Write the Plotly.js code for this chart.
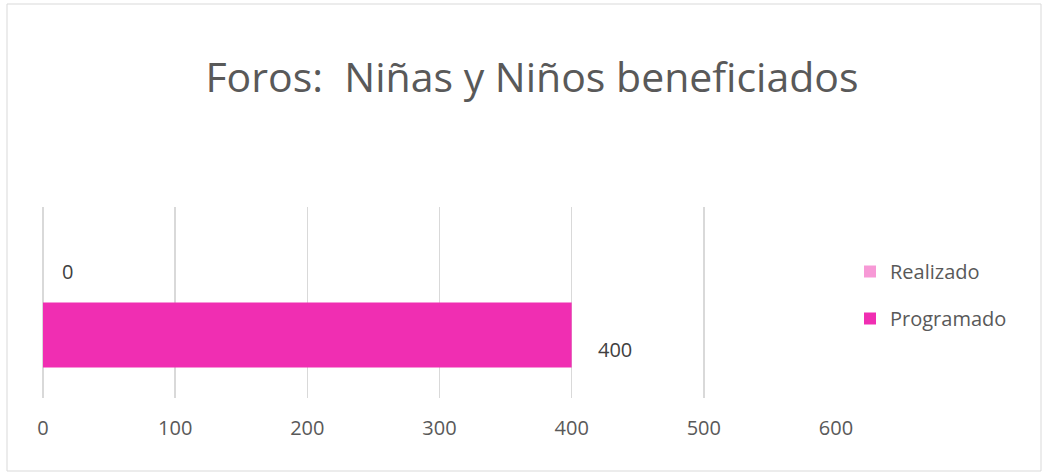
<!DOCTYPE html>
<html>
<head>
<meta charset="utf-8">
<script src="https://cdn.plot.ly/plotly-3.0.1.min.js"></script>
<style>html,body{margin:0;padding:0;background:#fff;}#chart{width:1048px;height:476px;}</style>
</head>
<body>
<div id="chart"></div>
<script>
const categories = ["Foros"];
const seriesNames = ["Programado", "Realizado"];
const programado = [400];
const realizado = [0];
const tickValues = [0, 100, 200, 300, 400, 500, 600];
const titleText = "Foros:  Niñas y Niños beneficiados";

const FONT = "'Open Sans', sans-serif";
const traces = [
  {type: "bar", orientation: "h", name: seriesNames[0], y: categories, x: programado,
   marker: {color: "#F02EB2"}, legendgroup: "p", legendrank: 2, hoverinfo: "none"},
  {type: "bar", orientation: "h", name: seriesNames[1], y: categories, x: realizado,
   marker: {color: "#F799D6"}, legendgroup: "r", legendrank: 1, hoverinfo: "none"}
];

const annotations = [];
programado.forEach((v, i) => annotations.push({x: v, y: categories[i], xref: "x", yref: "y",
  text: String(v), showarrow: false, xanchor: "left", xshift: 24, yshift: -47,
  font: {family: FONT, size: 20, color: "#404040"}}));
realizado.forEach((v, i) => annotations.push({x: v, y: categories[i], xref: "x", yref: "y",
  text: String(v), showarrow: false, xanchor: "left", xshift: 17, yshift: 31,
  font: {family: FONT, size: 20, color: "#404040"}}));

const layout = {
  width: 1048, height: 476,
  margin: {l: 43, r: 212, t: 207, b: 78, pad: 0},
  paper_bgcolor: "#fff", plot_bgcolor: "#fff",
  title: {text: titleText, x: 532/1048, xref: "container", xanchor: "center",
    y: 1 - 78/476, yref: "container", yanchor: "middle",
    font: {family: FONT, size: 41, color: "#595959"}},
  barmode: "group", bargap: 0.32, bargroupgap: 0,
  xaxis: {range: [0, 600], tickvals: tickValues, ticktext: tickValues.map(String),
    showgrid: true, gridcolor: "#d9d9d9", gridwidth: 1.5,
    zeroline: true, zerolinecolor: "#d9d9d9", zerolinewidth: 1.5,
    showline: false, ticks: "", ticklabelstandoff: 16,
    tickfont: {family: FONT, size: 20, color: "#595959"}, fixedrange: true},
  yaxis: {showticklabels: false, showgrid: false, zeroline: false, showline: false, ticks: "", fixedrange: true},
  showlegend: true,
  legend: {x: (850-43)/793, xanchor: "left", y: (398-295)/191, yanchor: "middle",
    traceorder: "grouped", tracegroupgap: 18,
    font: {family: FONT, size: 20, color: "#595959"}, bgcolor: "rgba(0,0,0,0)"},
  annotations: annotations,
  shapes: [{type: "rect", xref: "paper", yref: "paper",
    x0: (7-43)/793, x1: (1041-43)/793, y0: (398-471)/191, y1: (398-4)/191,
    line: {color: "#d9d9d9", width: 1}, fillcolor: "rgba(0,0,0,0)", layer: "below"}]
};

Plotly.newPlot("chart", traces, layout, {displayModeBar: false, staticPlot: true});
</script>
</body>
</html>
